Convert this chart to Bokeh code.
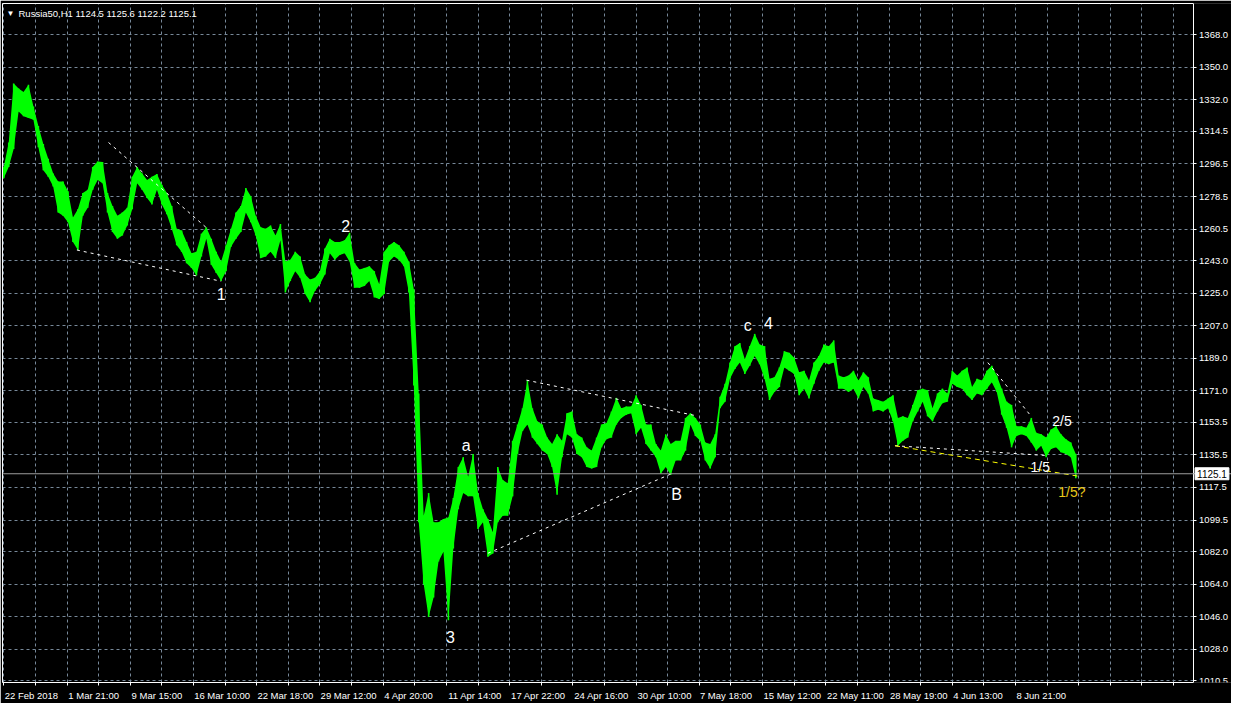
from bokeh.plotting import figure
from bokeh.models import (Range1d, FixedTicker, PrintfTickFormatter, Label, ColumnDataSource,
                          Span, LinearAxis, Grid, BoxAnnotation)
from bokeh.core.properties import value
from bokeh.embed import file_html
from bokeh.resources import INLINE

# ---------------- data ----------------
# one sample every 5 hourly bars: high / low of that group of bars
bar_high = [
    1294.9, 1308.4, 1341.0, 1338.2, 1336.4, 1340.4, 1328.3, 1317.5, 1307.5, 1299.4,
    1291.3, 1286.8, 1286.8, 1281.4, 1266.9, 1271.4, 1280.5, 1282.3, 1294.9, 1297.9,
    1297.6, 1280.5, 1273.2, 1267.8, 1269.6, 1272.3, 1289.5, 1294.9, 1291.3, 1287.7,
    1289.5, 1290.9, 1285.0, 1280.5, 1273.2, 1260.6, 1259.7, 1253.4, 1247.1, 1248.0,
    1257.9, 1261.5, 1255.2, 1248.0, 1242.5, 1251.6, 1260.6, 1269.6, 1273.2, 1283.2,
    1278.6, 1267.8, 1261.5, 1260.6, 1262.4, 1257.0, 1263.3,
    1242.6, 1243.5, 1248.0, 1245.3, 1235.4, 1232.6, 1233.5, 1237.2, 1249.8, 1255.2,
    1253.4, 1253.4, 1254.3, 1258.5, 1241.7, 1238.1, 1239.0, 1239.9, 1237.2, 1229.9,
    1248.0, 1251.6, 1253.4, 1251.6, 1248.0, 1242.6, 1227.2, 1169.5, 1101.8, 1114.4,
    1098.2, 1098.2, 1100.0, 1100.9, 1111.7, 1128.8, 1134.3, 1123.4, 1136.1, 1114.4,
    1105.4, 1100.0, 1092.7, 1128.8, 1121.6, 1119.8, 1143.3, 1152.3, 1161.3, 1176.7,
    1161.3, 1154.1, 1152.3, 1145.1, 1141.5, 1146.9,
    1143.3, 1158.6, 1159.5, 1146.9, 1145.1, 1139.7, 1137.9, 1145.1, 1152.3, 1153.2,
    1159.5, 1167.1, 1161.4, 1162.3, 1162.3, 1168.6, 1163.2, 1152.3, 1152.3, 1141.5,
    1137.9, 1146.9, 1141.5, 1143.3, 1143.3, 1155.9, 1158.6, 1155.9, 1152.3, 1142.4,
    1141.5, 1146.9, 1167.7, 1174.9, 1186.6, 1195.7, 1197.5, 1188.4, 1195.7, 1202.5,
    1196.6, 1195.7, 1177.6, 1178.5, 1183.9, 1192.9, 1192.0, 1189.3, 1181.2, 1182.1,
    1176.7, 1186.6, 1190.2, 1196.6, 1195.7, 1198.9,
    1179.4, 1178.5, 1179.4, 1182.1, 1176.7, 1181.2, 1178.5, 1166.8, 1165.9, 1165.0,
    1166.8, 1168.6, 1156.0, 1156.9, 1156.0, 1163.2, 1171.3, 1172.2, 1171.3, 1161.4,
    1169.5, 1172.2, 1169.5, 1182.1, 1179.4, 1182.1, 1183.9, 1173.1, 1177.6, 1176.7,
    1182.1, 1184.8, 1179.4, 1172.2, 1165.0, 1163.2, 1151.4, 1151.4, 1150.5, 1156.0,
    1147.8, 1146.9, 1145.1, 1149.6, 1151.4, 1146.9, 1144.2, 1142.4, 1136.1,
]
bar_low = [
    1288.6, 1294.9, 1304.8, 1325.6, 1322.9, 1322.0, 1321.0, 1305.7, 1293.1, 1289.5,
    1284.0, 1269.6, 1267.8, 1264.2, 1253.4, 1248.9, 1267.8, 1272.3, 1282.3, 1287.7,
    1285.9, 1269.6, 1258.8, 1255.2, 1257.0, 1262.4, 1271.4, 1285.9, 1282.3, 1277.7,
    1274.1, 1282.3, 1274.1, 1268.7, 1260.6, 1251.6, 1248.0, 1241.6, 1239.0, 1234.8,
    1245.3, 1255.2, 1240.7, 1236.2, 1231.7, 1237.1, 1250.7, 1255.2, 1258.8, 1269.6,
    1264.2, 1257.0, 1244.4, 1245.3, 1248.0, 1244.4, 1254.3,
    1225.4, 1231.7, 1237.2, 1233.5, 1224.5, 1220.0, 1226.3, 1229.9, 1235.4, 1247.1,
    1243.5, 1246.2, 1247.1, 1242.6, 1228.0, 1228.0, 1229.0, 1231.7, 1222.7, 1221.8,
    1224.5, 1242.6, 1245.3, 1243.5, 1239.9, 1225.4, 1174.0, 1098.2, 1063.9, 1045.8,
    1056.7, 1076.5, 1081.9, 1044.0, 1083.7, 1105.4, 1114.4, 1112.6, 1112.6, 1094.6,
    1098.2, 1079.2, 1081.0, 1098.2, 1101.8, 1101.8, 1112.6, 1136.1, 1148.7, 1152.3,
    1145.1, 1141.5, 1137.9, 1136.1, 1128.8, 1113.5,
    1134.3, 1146.9, 1145.1, 1136.1, 1134.3, 1128.9, 1128.0, 1128.9, 1139.7, 1144.2,
    1145.1, 1152.3, 1155.9, 1157.7, 1158.6, 1146.9, 1150.5, 1141.5, 1137.9, 1134.3,
    1125.3, 1128.9, 1124.4, 1132.5, 1132.5, 1137.9, 1152.3, 1146.0, 1143.3, 1132.5,
    1128.0, 1134.3, 1161.4, 1165.0, 1177.6, 1183.0, 1186.6, 1180.3, 1184.8, 1190.2,
    1185.7, 1177.6, 1165.9, 1170.4, 1173.1, 1183.9, 1182.1, 1180.3, 1168.6, 1172.2,
    1166.8, 1174.9, 1182.1, 1186.6, 1185.7, 1186.6,
    1172.2, 1172.2, 1170.4, 1172.2, 1166.8, 1173.1, 1169.5, 1159.6, 1160.5, 1159.6,
    1161.4, 1154.1, 1140.6, 1143.3, 1145.1, 1154.1, 1159.6, 1165.0, 1156.9, 1154.1,
    1159.6, 1164.1, 1165.0, 1174.9, 1173.1, 1172.2, 1168.6, 1165.9, 1169.5, 1168.6,
    1172.2, 1175.8, 1170.4, 1157.8, 1150.5, 1139.7, 1146.0, 1146.9, 1146.0, 1142.4,
    1137.9, 1140.6, 1134.3, 1138.8, 1139.7, 1137.0, 1136.1, 1134.3, 1122.6,
]
bar_index = list(range(0, 5 * len(bar_high), 5))

symbol = "Russia50,H1"
last_ohlc = [1124.5, 1125.6, 1122.2, 1125.1]
last_price = 1125.1

price_ticks = [1010.5, 1028.0, 1046.0, 1064.0, 1082.0, 1099.5, 1117.5, 1135.5,
               1153.5, 1171.0, 1189.0, 1207.0, 1225.0, 1243.0, 1260.5, 1278.5,
               1296.5, 1314.5, 1332.0, 1350.0, 1368.0]
time_label_bars = [0, 64, 128, 192, 256, 320, 384, 448, 512, 576, 640, 704,
                   768, 832, 896, 960, 1024]
time_labels = ["22 Feb 2018", "1 Mar 21:00", "9 Mar 15:00", "16 Mar 10:00",
               "22 Mar 18:00", "29 Mar 12:00", "4 Apr 20:00", "11 Apr 14:00",
               "17 Apr 22:00", "24 Apr 16:00", "30 Apr 10:00", "7 May 18:00",
               "15 May 12:00", "22 May 11:00", "28 May 19:00", "4 Jun 13:00",
               "8 Jun 21:00"]
grid_bars = list(range(0, 1200, 32))

wave_text = ["1", "2", "3", "a", "B", "c", "4"]
wave_bar = [220, 346, 452, 468, 681, 753, 774]
wave_price = [1224.5, 1262.4, 1035.0, 1140.6, 1113.5, 1207.2, 1208.3]

sub_text = ["2/5", "1/5"]
sub_bar = [1071, 1049]
sub_price = [1154.1, 1128.7]

alt_text = ["1/5?"]
alt_bar = [1081]
alt_price = [1115.2]

trend_x0 = [106, 74, 490, 529, 902, 996]
trend_y0 = [1308.4, 1248.9, 1081.1, 1176.9, 1140.6, 1186.6]
trend_x1 = [205, 220, 677, 699, 1055, 1040]
trend_y1 = [1261.3, 1231.6, 1125.4, 1157.4, 1135.2, 1156.8]

alt_trend_x0 = [902]
alt_trend_y0 = [1140.6]
alt_trend_x1 = [1087]
alt_trend_y1 = [1123.8]

# ---------------- layout constants ----------------
FONT = "Liberation Sans"
FS = 9.5                       # axis font size, px
X_START, X_AXIS = -1.3, 1203.7  # chart area in bar units; price scale sits at X_AXIS
X_END = 1242.6                 # extra room for the price scale labels
Y_START, Y_END = 1009.6, 1385.3
FIG_W, FIG_H = 1231, 703
PX_PER_BAR = (FIG_W - 2) / (X_END - X_START)

# approximate Liberation Sans advance widths (per 1000 em) to left-align time labels
ADV = {" ": 278, ":": 278, "F": 611, "e": 556, "b": 556, "M": 833, "a": 556, "r": 333,
       "A": 667, "p": 556, "y": 500, "J": 500, "u": 556, "n": 556}
def text_px(s):
    return sum(ADV.get(c, 556) for c in s) * FS / 1000.0

p = figure(width=FIG_W, height=FIG_H,
           x_range=Range1d(X_START, X_END), y_range=Range1d(Y_START, Y_END),
           y_axis_location=None, output_backend="svg", toolbar_location=None,
           background_fill_color="black", border_fill_color="black",
           min_border_left=2, min_border_top=3, min_border_right=0,
           min_border_bottom=20, outline_line_color=None)
# drop any default horizontal grid (we add our own, tied to the price ticks)
for g in list(p.ygrid):
    g.visible = False

# ---- time axis (labels start at their tick, as in MT4) ----
label_pos = []
overrides = {}
for b, t in zip(time_label_bars, time_labels):
    pos = int(round(b + (text_px(t) / 2 + 1) / PX_PER_BAR))
    label_pos.append(pos)
    overrides[pos] = t
xax = p.xaxis[0]
xax.ticker = FixedTicker(ticks=label_pos, minor_ticks=grid_bars)
xax.major_label_overrides = overrides
xax.bounds = (X_START, X_AXIS)
xax.axis_line_color = "white"
xax.major_tick_line_color = None
xax.major_tick_in = 0
xax.major_tick_out = 0
xax.minor_tick_line_color = "white"
xax.minor_tick_in = 0
xax.minor_tick_out = 3
xax.major_label_text_color = "white"
xax.major_label_text_font = FONT
xax.major_label_text_font_size = f"{FS}px"
xax.major_label_standoff = 4
p.xgrid[0].ticker = FixedTicker(ticks=grid_bars)
p.xgrid[0].grid_line_color = "#778899"
p.xgrid[0].grid_line_dash = "3 3"

# ---- price scale, drawn at the right edge of the chart area ----
yticker = FixedTicker(ticks=price_ticks)
yax = LinearAxis(ticker=yticker, formatter=PrintfTickFormatter(format="%.1f"),
                 fixed_location=X_AXIS)
yax.axis_line_color = "white"
yax.major_tick_line_color = "white"
yax.minor_tick_line_color = None
yax.major_tick_in = 0
yax.major_tick_out = 3
yax.major_label_text_color = "white"
yax.major_label_text_font = FONT
yax.major_label_text_font_size = f"{FS}px"
yax.major_label_standoff = 3
p.add_layout(yax, "right")
p.add_layout(Grid(dimension=1, ticker=yticker, grid_line_color="#778899",
                  grid_line_dash="3 3"))

# thin white frame lines on the left and top
for side in ("left", "above"):
    ax = LinearAxis(ticker=FixedTicker(ticks=[]), axis_line_color="white",
                    major_tick_line_color=None, minor_tick_line_color=None,
                    major_tick_out=0, minor_tick_out=0, major_label_standoff=0,
                    major_label_text_font_size="0px")
    if side == "above":
        ax.bounds = (X_START, X_AXIS)
    p.add_layout(ax, side)

# black area behind the price scale labels (hides grid there)
p.add_layout(BoxAnnotation(left=X_AXIS, fill_color="black", fill_alpha=1.0,
                           line_color=None, level="glyph"))

# current price line
p.add_layout(Span(location=last_price, dimension="width", line_color="#9c9c9c", line_width=1))

# price band (high / low of the hourly bars)
src = ColumnDataSource(dict(bar=bar_index, high=bar_high, low=bar_low))
p.varea(x="bar", y1="low", y2="high", source=src, fill_color="#00FF00")
p.vbar(x="bar", top="high", bottom="low", width=1.6, source=src,
       fill_color="#00FF00", line_color=None)

# trend lines
p.segment(x0=trend_x0, y0=trend_y0, x1=trend_x1, y1=trend_y1,
          line_color="white", line_width=1, line_dash="3 4")
p.segment(x0=alt_trend_x0, y0=alt_trend_y0, x1=alt_trend_x1, y1=alt_trend_y1,
          line_color="#FFFF00", line_width=1, line_dash="5 4")

# wave labels
p.text(x=wave_bar, y=wave_price, text=wave_text, text_color="white",
       text_font=value(FONT), text_font_size="16px",
       text_align="center", text_baseline="middle")
p.text(x=sub_bar, y=sub_price, text=sub_text, text_color="white",
       text_font=value(FONT), text_font_size="14px",
       text_align="center", text_baseline="middle")
p.text(x=alt_bar, y=alt_price, text=alt_text, text_color="#E8C81A",
       text_font=value(FONT), text_font_size="14px",
       text_align="center", text_baseline="middle")

# header
p.add_layout(Label(x=X_START, y=Y_END, x_offset=4, y_offset=-5, text="\u25BC",
                   text_color="white", text_font=FONT, text_font_size="8px",
                   text_baseline="top"))
header = symbol + "  " + " ".join(f"{v:.1f}" for v in last_ohlc)
p.add_layout(Label(x=X_START, y=Y_END, x_offset=16, y_offset=-4, text=header,
                   text_color="white", text_font=FONT, text_font_size=f"{FS}px",
                   text_baseline="top"))

# current price box on the price scale
box = Label(x=X_AXIS, y=last_price, x_offset=2, text=f"{last_price:.1f}",
            text_color="black", text_font=FONT, text_font_size="10px",
            text_baseline="middle", background_fill_color="white",
            border_line_color="white")
if "padding" in box.properties():
    box.padding = 2
p.add_layout(box)

open("out.html", "w").write(file_html(p, INLINE))
